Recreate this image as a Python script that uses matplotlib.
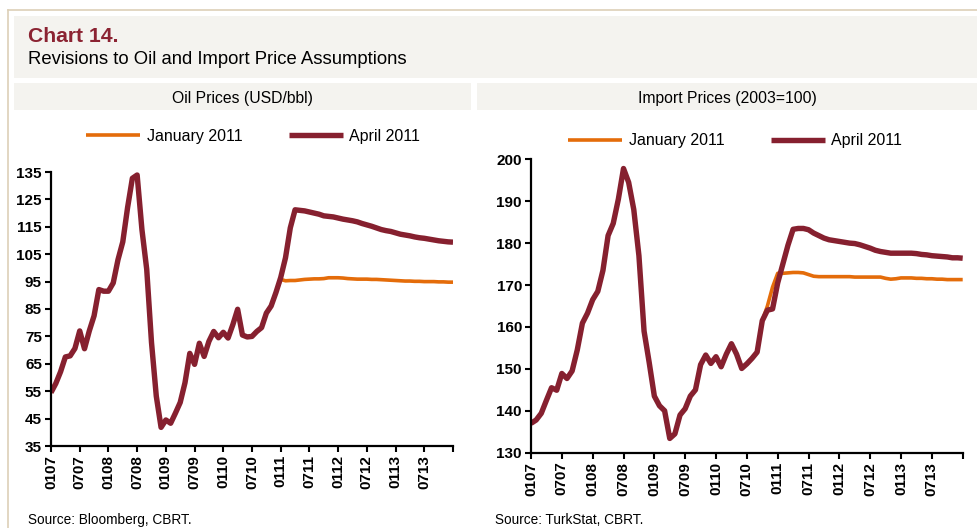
import numpy as np
import matplotlib
matplotlib.use('Agg')
import matplotlib.pyplot as plt
from matplotlib.patches import Rectangle
from matplotlib.lines import Line2D

## data (monthly, Jan 2007 - Jan 2014)

xlabels = ['0107', '0707', '0108', '0708', '0109', '0709', '0110',
           '0710', '0111', '0711', '0112', '0712', '0113', '0713']

# oil, history Jan07-Dec10
oil_hist = [54.5, 57.8, 62.1, 67.5, 67.9, 70.6, 77.0, 70.5, 77.0, 82.5, 92.1, 91.5,
            91.5, 94.5, 103.0, 109.5, 122.0, 132.7, 133.9, 114.0, 99.5, 72.8, 53.2, 41.8,
            44.5, 43.3, 47.0, 50.9, 58.1, 68.8, 64.8, 72.5, 67.7, 73.2, 76.8, 74.5,
            76.5, 74.4, 79.3, 84.9, 75.5, 74.8, 75.0, 76.8, 78.2, 83.5, 86.1, 91.0]
# oil, Jan 2011 vintage, Jan11-Jan14
oil_jan = [95.8, 95.3, 95.4, 95.4, 95.6, 95.8, 95.9, 96.0, 96.0, 96.1, 96.4, 96.4,
           96.4, 96.3, 96.1, 96.0, 95.9, 95.9, 95.9, 95.8, 95.8, 95.7, 95.6, 95.5,
           95.4, 95.3, 95.2, 95.2, 95.1, 95.1, 95.0, 95.0, 95.0, 94.9, 94.9, 94.8, 94.8]
# oil, Apr 2011 vintage
oil_apr = [96.5, 103.7, 114.6, 121.2, 121.0, 120.8, 120.4, 120.0, 119.6, 119.0, 118.8, 118.6,
           118.2, 117.8, 117.5, 117.2, 116.8, 116.2, 115.7, 115.2, 114.6, 114.0, 113.6, 113.3,
           112.8, 112.3, 112.0, 111.7, 111.3, 111.0, 110.8, 110.5, 110.2, 109.9, 109.7, 109.5, 109.4]

# import prices, history Jan07-Dec10
imp_hist = [137.0, 137.8, 139.4, 142.5, 145.5, 144.9, 148.9, 147.7, 149.5, 154.5, 160.9, 163.3,
            166.5, 168.5, 173.5, 181.8, 184.7, 190.5, 197.8, 194.5, 188.0, 177.0, 159.0, 151.5,
            143.5, 141.2, 140.0, 133.4, 134.5, 139.0, 140.5, 143.5, 145.0, 151.0, 153.3, 151.3,
            152.9, 150.5, 153.5, 156.0, 153.5, 150.1, 151.2, 152.5, 154.0, 161.5, 164.0, 164.3]
# Jan 2011 vintage starts deviating in Nov 2010
imp_jan_start = 46
imp_jan = [165.0, 169.5,
           172.8, 172.8, 172.9, 173.0, 173.0, 172.9, 172.5, 172.1, 172.0, 172.0, 172.0, 172.0,
           172.0, 172.0, 172.0, 171.9, 171.9, 171.9, 171.9, 171.9, 171.9, 171.6, 171.4, 171.5,
           171.7, 171.7, 171.7, 171.6, 171.6, 171.5, 171.5, 171.4, 171.4, 171.3, 171.3, 171.3, 171.3]
imp_apr = [170.5, 175.0, 179.5, 183.3, 183.5, 183.5, 183.2, 182.4, 181.8, 181.2, 180.8, 180.6,
           180.4, 180.2, 180.0, 179.9, 179.6, 179.2, 178.8, 178.3, 178.0, 177.8, 177.6, 177.6,
           177.6, 177.6, 177.6, 177.5, 177.3, 177.2, 177.0, 176.9, 176.8, 176.7, 176.5, 176.5, 176.4]

DARK = '#86202f'
ORANGE = '#e46c0a'
plt.rcParams['font.family'] = ['Liberation Sans', 'DejaVu Sans']

fig = plt.figure(figsize=(9.77, 5.28), dpi=100)

##background boxes and frame
W, H = 977.0, 528.0
def box(x0, y0, x1, y1, **kw):
    fig.add_artist(Rectangle((x0 / W, 1 - y1 / H), (x1 - x0) / W, (y1 - y0) / H,
                             transform=fig.transFigure, **kw))

box(14, 16, 977, 78, facecolor='#f4f3ef', edgecolor='none')
box(14, 83, 471, 110, facecolor='#f4f3ef', edgecolor='none')
box(477, 83, 977, 110, facecolor='#f4f3ef', edgecolor='none')
fig.add_artist(Line2D([8 / W, 1], [1 - 10 / H, 1 - 10 / H], color='#ddd0b8', lw=1.2))
fig.add_artist(Line2D([8 / W, 8 / W], [0, 1 - 10 / H], color='#ddd0b8', lw=1.2))

fig.text(28 / W, 1 - 37 / H, 'Chart 14.', color='#8b2332', fontsize=15.2,
         fontweight='bold', va='center')
fig.text(28 / W, 1 - 60 / H, 'Revisions to Oil and Import Price Assumptions',
         fontsize=13.3, va='center')
fig.text(242 / W, 1 - 98 / H, 'Oil Prices (USD/bbl)', fontsize=11.3, ha='center', va='center')
fig.text(727 / W, 1 - 98 / H, 'Import Prices (2003=100)', fontsize=11.3, ha='center', va='center')
fig.text(28 / W, 1 - 520 / H, 'Source: Bloomberg, CBRT.', fontsize=9.8, va='center')
fig.text(495 / W, 1 - 520 / H, 'Source: TurkStat, CBRT.', fontsize=9.8, va='center')


def panel(rect, hist, jan, jan_start, apr, ylim, yticks, legpos):
    ax = fig.add_axes(rect)
    n = len(hist) + len(apr)
    x = np.arange(n)
    jan_full = list(hist[:jan_start]) + list(jan)
    apr_full = list(hist) + list(apr)
    ax.plot(x, jan_full, color=ORANGE, lw=2.6, label='January 2011', solid_capstyle='butt')
    ax.plot(x, apr_full, color=DARK, lw=3.9, label='April 2011', solid_capstyle='butt')
    ax.set_xlim(0, n - 1)
    ax.set_ylim(*ylim)
    ax.set_yticks(yticks)
    ticks = np.arange(0, n, 6)
    ax.set_xticks(ticks)
    ax.set_xticklabels(xlabels + [''] * (len(ticks) - len(xlabels)), rotation=90)
    for s in ['top', 'right']:
        ax.spines[s].set_visible(False)
    for s in ['left', 'bottom']:
        ax.spines[s].set_linewidth(1.6)
    ax.tick_params(width=1.5, length=4.5, labelsize=11, pad=2)
    for lab in ax.get_xticklabels() + ax.get_yticklabels():
        lab.set_fontweight('bold')
    ax.legend(loc='center', bbox_to_anchor=legpos, bbox_transform=fig.transFigure,
              ncol=2, frameon=False, handlelength=3.4, handletextpad=0.4,
              columnspacing=2.9, prop={'size': 11.5})
    return ax


panel([51 / W, 82 / H, 402 / W, 274 / H], oil_hist, oil_jan, 48, oil_apr,
      (35, 135), np.arange(35, 136, 10), (253 / W, 1 - 136 / H))
panel([531 / W, 75.3 / H, 431.7 / W, 293.4 / H], imp_hist, imp_jan, imp_jan_start, imp_apr,
      (130, 200), np.arange(130, 201, 10), (735 / W, 1 - 141 / H))

fig.savefig('out.png', dpi=100)
